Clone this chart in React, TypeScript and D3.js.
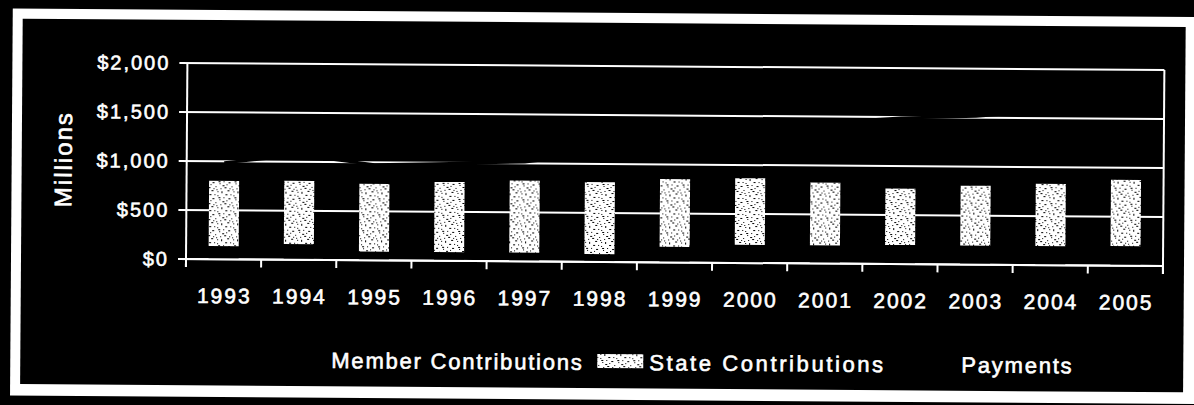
import React from 'react';
import * as d3 from 'd3';

// values in $ millions
const years = ['1993', '1994', '1995', '1996', '1997', '1998', '1999', '2000', '2001', '2002', '2003', '2004', '2005'];
const memberContributions = [135, 160, 90, 90, 90, 80, 160, 185, 185, 195, 195, 195, 200];
const stateContributions = [665, 645, 690, 715, 735, 735, 690, 680, 640, 575, 610, 635, 675];
const payments = [985, 1070, 975, 995, 1015, 1110, 1220, 1330, 1440, 1492, 1515, 1580, 1650];
const yTicks = [0, 500, 1000, 1500, 2000];
const seriesNames = ['Member Contributions', 'State Contributions', 'Payments'];

const W = 1194;
const H = 405;
const plot = { left: 186, right: 1163, top: 63, bottom: 259 };
const FONT = 'Arial, "Liberation Sans", Helvetica, sans-serif';
const TILT = 0.41; // the scan is slightly rotated

// stipple texture for the state bars
const speckles: [number, number][] = [
  [1, 2], [9, 3], [13, 0], [4, 6], [11, 7], [15, 5], [0, 11], [7, 10],
  [12, 12], [3, 14], [9, 15], [6, 2], [14, 9], [2, 8], [5, 12], [10, 5],
  [8, 13], [13, 15],
];

// scanned text is a bit heavier than plain regular weight
const textStyle = {
  fill: '#fff',
  stroke: '#fff',
  strokeWidth: 0.6,
  fontFamily: FONT,
} as const;

export default function App() {
  const rows = years.map((year, i) => ({
    year,
    member: memberContributions[i],
    state: stateContributions[i],
    payments: payments[i],
  }));

  const xCat = d3.scaleBand<string>().domain(years).range([plot.left, plot.right]).padding(0);
  const xBar = d3.scaleBand<string>().domain(years).range([plot.left, plot.right])
    .paddingInner(0.6).paddingOuter(0.3);
  const y = d3.scaleLinear().domain([0, 2000]).range([plot.bottom, plot.top]);

  const stacked = d3.stack<any>().keys(['member', 'state'])(rows);

  const line = d3.line<any>()
    .x(d => xCat(d.year)! + xCat.bandwidth() / 2)
    .y(d => y(d.payments));

  const fmt = (v: number) => '$' + d3.format(',')(v);
  const step = xCat.step();
  const boundaries = years.map((yr) => xCat(yr)!).concat([plot.right]);

  return (
    <div style={{ position: 'fixed', left: 0, top: 0 }}>
      <svg width={W} height={H} style={{ display: 'block', background: '#000' }}>
        <defs>
          <pattern id="stipple" width={16} height={16} patternUnits="userSpaceOnUse">
            <rect width={16} height={16} fill="#fff" />
            {speckles.map(([sx, sy], i) => (
              <rect key={i} x={sx} y={sy} width={i % 3 === 0 ? 2 : 1} height={1} fill="#000" />
            ))}
          </pattern>
        </defs>
        <rect width={W} height={H} fill="#000" />
        <g transform={`rotate(${TILT}, ${plot.left}, ${plot.bottom})`}>
          {/* frame */}
          <rect x={11} y={9.8} width={1200} height={387} fill="#fff" />
          <rect x={21} y={19.8} width={1184 - 21} height={385.2 - 19.8} fill="#000" />

          {/* gridlines + y labels */}
          {yTicks.map(t => (
            <g key={t}>
              <line x1={plot.left - 8} x2={plot.right} y1={y(t)} y2={y(t)} stroke="#fff" strokeWidth={2} />
              <text x={169} y={y(t) + 7} textAnchor="end" {...textStyle}
                fontSize={20} letterSpacing={2}>{fmt(t)}</text>
            </g>
          ))}

          {/* stacked bars */}
          {stacked.map((layer) => (
            <g key={layer.key}>
              {layer.map((d: any) => (
                <rect key={d.data.year}
                  x={xBar(d.data.year)}
                  y={y(d[1])}
                  width={xBar.bandwidth()}
                  height={y(d[0]) - y(d[1])}
                  fill={layer.key === 'state' ? 'url(#stipple)' : '#000'} />
              ))}
            </g>
          ))}

          {/* axes on top of the bars */}
          <line x1={plot.left - 8} x2={plot.right} y1={plot.bottom} y2={plot.bottom} stroke="#fff" strokeWidth={2} />
          <line x1={plot.left} x2={plot.left} y1={plot.top} y2={plot.bottom + 8} stroke="#fff" strokeWidth={2} />
          <line x1={plot.right} x2={plot.right} y1={plot.top} y2={plot.bottom + 8} stroke="#fff" strokeWidth={2} />
          {boundaries.map((bx, i) => (
            <line key={i} x1={bx} x2={bx} y1={plot.bottom} y2={plot.bottom + 8} stroke="#fff" strokeWidth={2} />
          ))}

          {/* payments line (black on black, shows as breaks in the gridlines) */}
          <path d={line(rows) || ''} fill="none" stroke="#000" strokeWidth={3} />

          {/* x labels */}
          {years.map(yr => (
            <text key={yr} x={xCat(yr)! + step / 2 + 1} y={303} textAnchor="middle" {...textStyle}
              fontSize={21} letterSpacing={2}>{yr}</text>
          ))}

          <text transform="translate(71,160) rotate(-90)" textAnchor="middle" {...textStyle}
            fontSize={24} letterSpacing={2}>Millions</text>

          {/* legend */}
          <rect x={280} y={351} width={46} height={14} fill="#000" />
          <text x={332} y={367} {...textStyle} fontSize={22} letterSpacing={1.8}>{seriesNames[0]}</text>
          <rect x={598} y={351} width={46} height={14} fill="url(#stipple)" />
          <text x={650} y={367} {...textStyle} fontSize={22} letterSpacing={2.6}>{seriesNames[1]}</text>
          <line x1={905} x2={955} y1={358} y2={358} stroke="#000" strokeWidth={3} />
          <text x={962} y={367} {...textStyle} fontSize={22} letterSpacing={1.8}>{seriesNames[2]}</text>
        </g>
      </svg>
    </div>
  );
}
